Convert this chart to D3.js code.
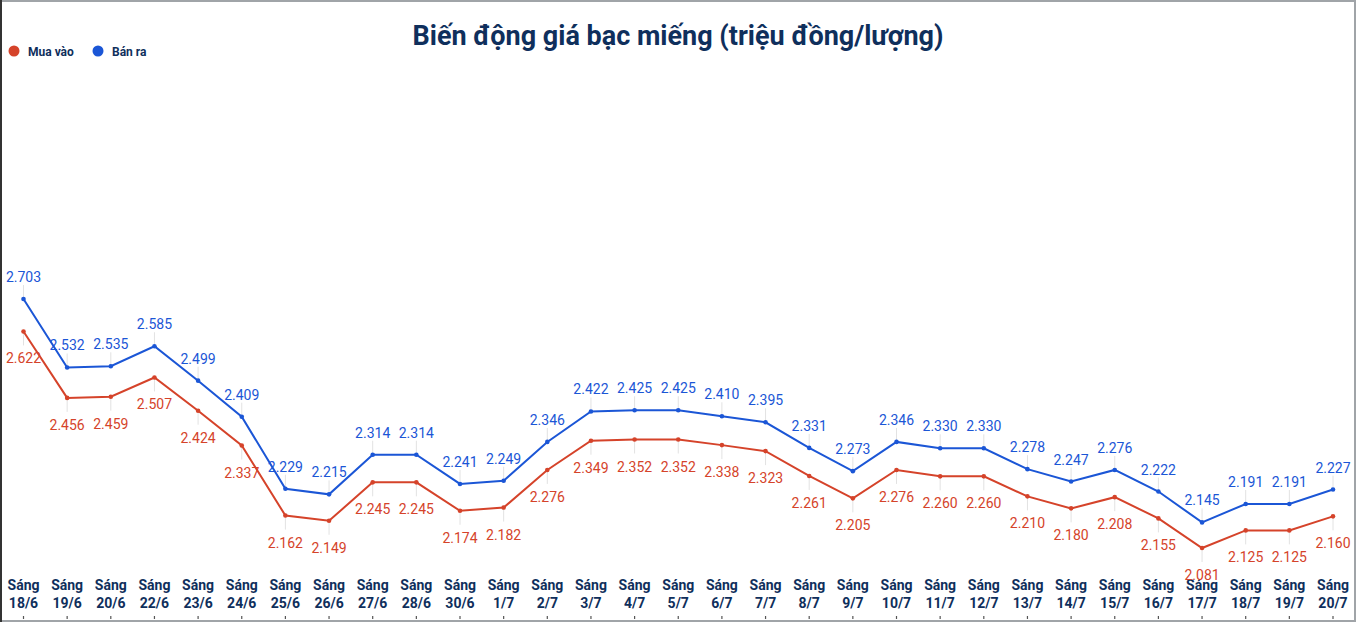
<!DOCTYPE html>
<html>
<head>
<meta charset="utf-8">
<script src="https://cdn.jsdelivr.net/npm/d3@7"></script>
<style>
  body { margin: 0; background: #fff; }
  svg { display: block; font-family: Roboto, "Noto Sans", sans-serif; }
</style>
</head>
<body>
<svg id="chart" width="1356" height="622"></svg>
<script>
const days = ["18/6", "19/6", "20/6", "22/6", "23/6", "24/6", "25/6", "26/6", "27/6", "28/6", "30/6",
    "1/7", "2/7", "3/7", "4/7", "5/7", "6/7", "7/7", "8/7", "9/7", "10/7", "11/7", "12/7", "13/7",
    "14/7", "15/7", "16/7", "17/7", "18/7", "19/7", "20/7"];
const buy = [2.622, 2.456, 2.459, 2.507, 2.424, 2.337, 2.162, 2.149, 2.245, 2.245, 2.174,
    2.182, 2.276, 2.349, 2.352, 2.352, 2.338, 2.323, 2.261, 2.205, 2.276, 2.260, 2.260, 2.210,
    2.180, 2.208, 2.155, 2.081, 2.125, 2.125, 2.160];
const sell = [2.703, 2.532, 2.535, 2.585, 2.499, 2.409, 2.229, 2.215, 2.314, 2.314, 2.241,
    2.249, 2.346, 2.422, 2.425, 2.425, 2.410, 2.395, 2.331, 2.273, 2.346, 2.330, 2.330, 2.278,
    2.247, 2.276, 2.222, 2.145, 2.191, 2.191, 2.227];
const seriesNames = ["Mua vào", "Bán ra"];
const title = "Biến động giá bạc miếng (triệu đồng/lượng)";

const W = 1356, H = 622;
const red = "#d5432a", blue = "#1b56d6", navy = "#0f2f5c";
const svg = d3.select("#chart");

// frame
svg.append("rect").attr("x", 1).attr("y", 1).attr("width", W - 2).attr("height", H - 2)
    .attr("fill", "none").attr("stroke", "#a0a4a8").attr("stroke-width", 2);
svg.append("line").attr("x1", 1).attr("x2", 1).attr("y1", 0).attr("y2", H)
    .attr("stroke", "#333").attr("stroke-width", 2);

let x = d3.scalePoint().domain(days).range([23.5, 1333]);
let y = d3.scaleLinear().domain([2.081, 2.703]).range([548, 299]);
let fmt = d3.format(".3f");

svg.append("text").attr("x", 678).attr("y", 45).attr("text-anchor", "middle")
    .attr("font-size", 27).attr("font-weight", "bold").attr("fill", navy).text(title);

// legend
let leg = svg.append("g").attr("transform", "translate(14,51)");
[[red, 0], [blue, 84]].forEach(([c, dx], i) => {
    leg.append("circle").attr("cx", dx).attr("cy", 0).attr("r", 5.5).attr("fill", c);
    leg.append("text").attr("x", dx + 14).attr("y", 4.5).attr("font-size", 12)
        .attr("font-weight", "bold").attr("fill", navy).text(seriesNames[i]);
});

// x axis labels
let ax = svg.append("g");
days.forEach(d => {
    let t = ax.append("text").attr("x", x(d)).attr("text-anchor", "middle")
        .attr("font-size", 14).attr("font-weight", "bold").attr("fill", navy);
    t.append("tspan").attr("x", x(d)).attr("y", 590).text("Sáng");
    t.append("tspan").attr("x", x(d)).attr("y", 608).text(d);
    ax.append("line").attr("x1", x(d)).attr("x2", x(d)).attr("y1", 616).attr("y2", 619)
        .attr("stroke", "#555").attr("stroke-width", 1.2);
});

function drawSeries(vals, color, above) {
    let g = svg.append("g");
    // leader lines
    g.selectAll("line.lead").data(vals).join("line")
        .attr("x1", (v, i) => x(days[i])).attr("x2", (v, i) => x(days[i]))
        .attr("y1", v => y(v))
        .attr("y2", v => above ? y(v) - 14 : y(v) + 14)
        .attr("stroke", "#e2e2e2").attr("stroke-width", 1);
    g.append("path").datum(vals)
        .attr("fill", "none").attr("stroke", color).attr("stroke-width", 2)
        .attr("d", d3.line().x((v, i) => x(days[i])).y(v => y(v)));
    g.selectAll("circle").data(vals).join("circle")
        .attr("cx", (v, i) => x(days[i])).attr("cy", v => y(v)).attr("r", 2.3).attr("fill", color);
    g.selectAll("text").data(vals).join("text")
        .attr("x", (v, i) => x(days[i])).attr("y", v => above ? y(v) - 17 : y(v) + 32)
        .attr("text-anchor", "middle").attr("font-size", 14).attr("fill", color)
        .text(v => fmt(v));
}
drawSeries(buy, red, false);
drawSeries(sell, blue, true);
</script>
</body>
</html>
